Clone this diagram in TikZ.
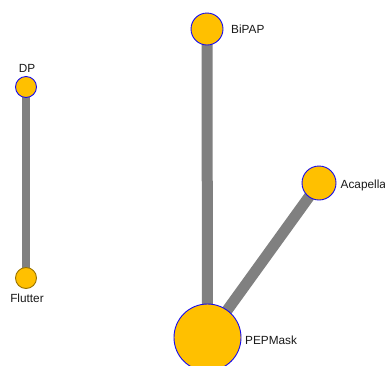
\documentclass[tikz,border=0pt]{standalone}
\usepackage{fontspec}
\setmainfont{Liberation Sans}
\usetikzlibrary{backgrounds}
\definecolor{nodefill}{RGB}{255,192,0}
\definecolor{nodeline}{RGB}{20,10,240}
\definecolor{edgegray}{RGB}{128,128,128}
\tikzset{
  vertex/.style={circle, fill=nodefill, draw=nodeline, line width=0.9pt, inner sep=0pt, minimum size=#1},
  plainvertex/.style={vertex=#1, draw=nodefill!60!black},
  tag/.style={font=\fontsize{11.8}{13}\selectfont, inner sep=0pt, text=black!90},
  link/.style={draw=edgegray, line width=#1}
}
\begin{document}
\begin{tikzpicture}[x=1pt, y=-1pt]
  \useasboundingbox (0,0) rectangle (385,365);
  % treatment nodes, sized by sample
  \node[vertex=21pt] (dp) at (26,87) {};
  \node[plainvertex=21pt] (flutter) at (26,278) {};
  \node[vertex=32pt] (bipap) at (207,29) {};
  \node[vertex=34pt] (acapella) at (319,183) {};
  \node[vertex=67pt] (pepmask) at (207.5,337.5) {};
  % names
  \node[tag, anchor=base] (ldp) at (27,72) {DP};
  \node[tag, anchor=base] (lflutter) at (27,302) {Flutter};
  \node[tag, anchor=west] (lbipap) at (231,29) {BiPAP};
  \node[tag, anchor=west] (lacapella) at (340.5,185) {Acapella};
  \node[tag, anchor=west] (lpepmask) at (245,340) {PEPMask};
  % comparisons, thickness by number of studies
  \begin{scope}[on background layer]
    \fill[white] (0,0) rectangle (385,365);
    \draw[link=7.5pt] (dp.center) -- (flutter.center);
    \draw[link=11pt] (bipap.center) -- (pepmask.center);
    \draw[link=11pt] (acapella.center) -- (pepmask.center);
  \end{scope}
\end{tikzpicture}
\end{document}
